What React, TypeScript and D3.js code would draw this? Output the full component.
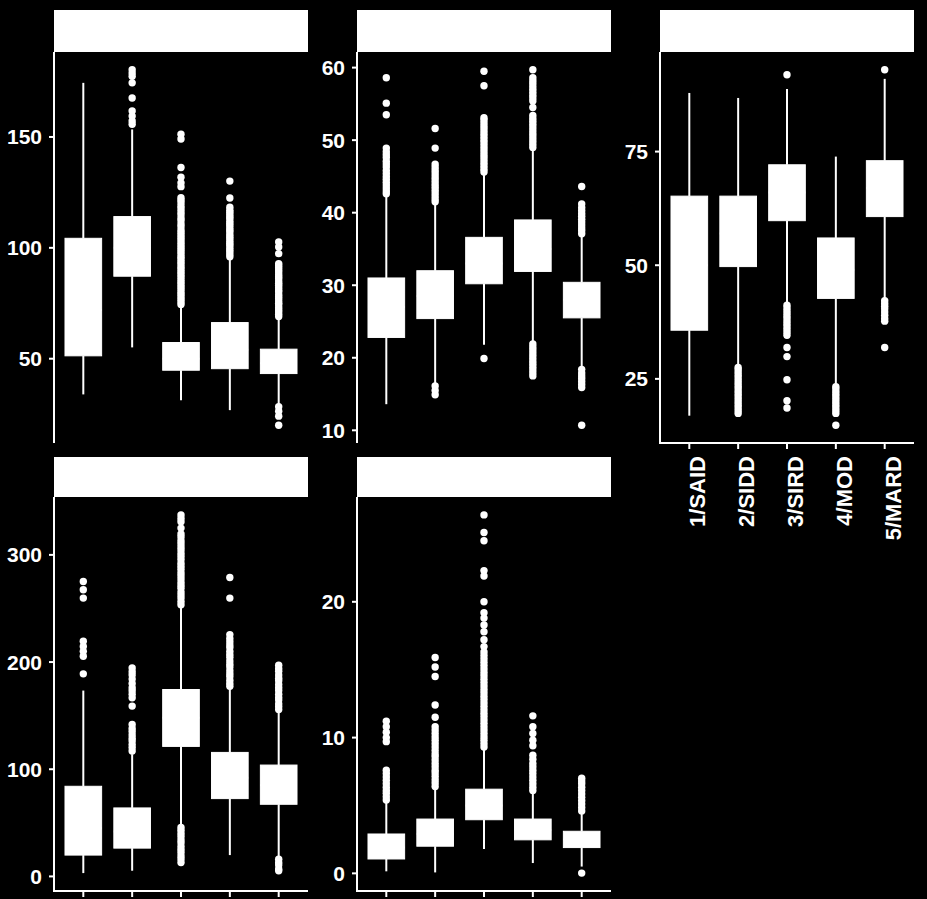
import * as React from 'react';
import * as d3 from 'd3';

const categories = ['1/SAID', '2/SIDD', '3/SIRD', '4/MOD', '5/MARD'];

// [whisker low, q1, median, q3, whisker high] per cluster
const p1Stats = [
	[33.9, 51.3, 72, 104.3, 174.4],
	[55.1, 87.2, 100, 114.1, 153.4],
	[31.3, 44.8, 50, 57.3, 73.5],
	[26.8, 45.5, 54, 66.3, 95.1],
	[29.4, 43.3, 48, 54.3, 68.2],
];
const p1Out = [
	[],
	[155.7, 157.2, 159.4, 161.7, 167.6, 174.4, 177.4, 178.8, 180.3],
	[74.5, 75.6, 76.7, 77.8, 78.9, 80, 81.2, 82.3, 83.4, 84.5, 85.6, 86.8, 87.9, 89, 90.1, 91.2, 92.4, 93.5, 94.6, 95.7, 96.8, 98, 99.1, 100.2, 101.3, 102.4, 103.6, 104.7, 105.8, 106.9, 108, 109.5, 110.8, 112.3, 113.4, 114.9, 116.2, 117.5, 118.8, 120.2, 121.5, 122.6, 127.6, 129.3, 131.8, 136.2, 149.1, 151.2],
	[96, 97, 98.1, 99, 100, 101.2, 102, 103, 104.1, 105, 106, 107.2, 108, 109, 110.1, 111, 112, 113.2, 114, 115, 116.1, 117, 118.3, 122.5, 130.1],
	[20, 24.1, 26.3, 28.3, 69, 70, 71.1, 72, 73, 74.2, 75, 76, 77.1, 78, 79, 80.2, 81, 82, 83.1, 84, 85, 86.2, 87, 88, 89.1, 90, 91, 92, 92.9, 97.4, 100.4, 102.6],
];
const p1Ticks = [50, 100, 150];

const p2Stats = [
	[13.6, 22.8, 27, 31.0, 42.2],
	[16.5, 25.4, 28.5, 32.0, 41.2],
	[21.8, 30.2, 33, 36.6, 45.4],
	[22.3, 31.9, 35, 39.0, 48.8],
	[18.6, 25.5, 28, 30.4, 36.9],
];
const p2Out = [
	[42.6, 43.0, 43.4, 43.8, 44.2, 44.6, 45.0, 45.4, 45.8, 46.3, 46.7, 47.1, 47.6, 48.0, 48.4, 48.9, 53.5, 55.1, 58.6],
	[14.9, 15.5, 16.1, 41.5, 41.9, 42.3, 42.7, 43.1, 43.5, 43.9, 44.3, 44.7, 45.1, 45.5, 45.9, 46.3, 46.7, 48.9, 51.6],
	[19.9, 45.6, 46.0, 46.4, 46.8, 47.2, 47.6, 48.0, 48.4, 48.8, 49.2, 49.6, 50.0, 50.4, 50.8, 51.2, 51.6, 52.0, 52.4, 52.8, 53.1, 57.5, 59.5],
	[17.5, 17.9, 18.3, 18.7, 19.1, 19.5, 19.9, 20.3, 20.7, 21.1, 21.5, 21.9, 49.0, 49.4, 49.8, 50.2, 50.6, 51.0, 51.4, 51.8, 52.2, 52.6, 53.0, 53.4, 54.5, 55.4, 55.8, 56.2, 56.6, 57.0, 57.4, 57.8, 58.2, 58.6, 59.7],
	[10.7, 15.9, 16.3, 16.7, 17.1, 17.5, 17.9, 18.4, 37.1, 37.5, 37.9, 38.3, 38.7, 39.1, 39.5, 39.9, 40.3, 40.7, 41.2, 43.6],
];
const p2Ticks = [10, 20, 30, 40, 50, 60];

const p3Stats = [
	[16.9, 35.7, 50, 65.2, 87.9],
	[27.9, 49.7, 57, 65.2, 86.8],
	[41.8, 59.8, 66, 72.1, 88.75],
	[23.7, 42.7, 49, 56.0, 73.9],
	[42.6, 60.7, 67, 73.0, 91.0],
];
const p3Out = [
	[],
	[17.4, 18.0, 18.6, 19.2, 19.8, 20.4, 21.0, 21.6, 22.2, 22.8, 23.4, 24.0, 24.6, 25.2, 25.8, 26.4, 27.0, 27.5],
	[18.6, 20.2, 24.8, 29.9, 31.9, 34.6, 35.2, 35.8, 36.4, 37.0, 37.6, 38.2, 38.8, 39.4, 40.0, 40.6, 41.2, 91.9],
	[14.8, 17.4, 18.0, 18.6, 19.2, 19.8, 20.4, 21.0, 21.6, 22.2, 22.8, 23.3],
	[31.9, 37.7, 38.3, 39.0, 39.7, 40.4, 41.0, 41.6, 42.2, 93.0],
];
const p3Ticks = [25, 50, 75];

const p4Stats = [
	[3.1, 19.9, 45, 84.1, 173.4],
	[5.3, 26.4, 42, 63.9, 114],
	[47.5, 121.3, 148, 174.4, 251],
	[19.9, 72.6, 92, 115.7, 175],
	[17.7, 67.3, 85, 103.9, 153],
];
const p4Out = [
	[189, 205.4, 210, 214.5, 219.4, 259.7, 267.5, 275.2],
	[117, 120.2, 123, 126.4, 129, 132, 135.3, 138, 141.8, 158.9, 166.6, 170, 173.2, 176, 180, 184.1, 188, 191, 194.5],
	[13, 16.2, 19, 22.4, 25, 28, 31.3, 34, 37.2, 40, 43, 45.6, 253.5, 256.4, 259.7, 262.5, 265.3, 268.8, 271.5, 274.2, 277.6, 280.5, 283.3, 286.7, 289.5, 292.2, 295.6, 298.5, 301.4, 304.6, 307.3, 310.5, 313.2, 316.8, 319.5, 325, 331, 334, 337.3],
	[177.5, 180, 183, 186.5, 189, 192, 195.5, 198, 201, 204.5, 207, 210, 213.5, 216, 219, 222, 225.6, 259.7, 278.9],
	[5.3, 7, 10.7, 13, 16.1, 155.8, 158.5, 161, 164.5, 167, 170, 173.5, 176, 179, 182.5, 185, 188, 191.5, 194, 197],
];
const p4Ticks = [0, 100, 200, 300];

const p5Stats = [
	[0.15, 1.06, 1.9, 2.9, 5.3],
	[0.07, 2.0, 2.9, 4.0, 6.3],
	[1.8, 3.95, 5, 6.2, 9.2],
	[0.76, 2.47, 3.2, 4.0, 6.0],
	[0.5, 1.9, 2.5, 3.1, 4.5],
];
const p5Out = [
	[5.4, 5.65, 5.9, 6.1, 6.35, 6.6, 6.85, 7.1, 7.35, 7.6, 9.7, 10.0, 10.4, 10.8, 11.2],
	[6.4, 6.65, 6.9, 7.15, 7.4, 7.6, 7.85, 8.1, 8.35, 8.6, 8.8, 9.05, 9.3, 9.55, 9.8, 10.05, 10.3, 10.55, 10.8, 11.5, 12.4, 14.5, 15.2, 15.9],
	[9.3, 9.55, 9.8, 10.05, 10.3, 10.55, 10.8, 11.05, 11.3, 11.55, 11.8, 12.05, 12.3, 12.55, 12.8, 13.05, 13.3, 13.55, 13.8, 14.05, 14.3, 14.55, 14.8, 15.05, 15.3, 15.55, 15.8, 16.05, 16.3, 16.7, 17.2, 17.8, 18.3, 18.8, 19.2, 20.0, 21.9, 22.3, 24.5, 25.1, 26.4],
	[6.1, 6.35, 6.6, 6.85, 7.1, 7.35, 7.6, 7.85, 8.1, 8.4, 8.7, 9.4, 9.8, 10.3, 10.8, 11.6],
	[0.02, 4.6, 4.85, 5.1, 5.35, 5.6, 5.85, 6.1, 6.35, 6.6, 6.8, 7.0],
];
const p5Ticks = [0, 10, 20];

const W = 927;
const H = 899;
const panelW = 254;
const colLeft = [54, 357, 660];
const rows = [
	{ stripTop: 10, plotTop: 52, plotBottom: 443 },
	{ stripTop: 457, plotTop: 497, plotBottom: 891 },
];
const font = '"Liberation Sans", Arial, sans-serif';

const Panel = ({ x0, row, stats, outliers, ticks, xAxis, xLabels }) => {
	const all = stats.flat().concat(outliers.flat());
	const [mn, mx] = d3.extent(all);
	const pad = (mx - mn) * 0.05;
	const y = d3.scaleLinear().domain([mn - pad, mx + pad]).range([row.plotBottom, row.plotTop]);
	const x = d3.scalePoint().domain(categories).range([x0, x0 + panelW]).padding(0.6);
	const bw = x.step() * 0.75;

	return (
		<g>
			<rect x={x0} y={row.stripTop} width={panelW} height={row.plotTop - row.stripTop} fill='#fff' />
			{stats.map((s, i) => {
				const cx = x(categories[i]);
				const [lo, q1, med, q3, hi] = s;
				return (
					<g key={i}>
						<line x1={cx} x2={cx} y1={y(hi)} y2={y(q3)} stroke='#fff' strokeWidth={2} />
						<line x1={cx} x2={cx} y1={y(q1)} y2={y(lo)} stroke='#fff' strokeWidth={2} />
						<rect x={cx - bw / 2} y={y(q3)} width={bw} height={y(q1) - y(q3)} fill='#fff' stroke='#fff' strokeWidth={1} />
						<line x1={cx - bw / 2} x2={cx + bw / 2} y1={y(med)} y2={y(med)} stroke='#fff' strokeWidth={2} />
						{outliers[i].map((v, j) => (
							<circle key={j} cx={cx} cy={y(v)} r={3.7} fill='#fff' />
						))}
					</g>
				);
			})}
			<line x1={x0} x2={x0} y1={row.plotTop} y2={row.plotBottom} stroke='#fff' strokeWidth={2} />
			{ticks.map(t => (
				<g key={t}>
					<line x1={x0 - 5} x2={x0} y1={y(t)} y2={y(t)} stroke='#fff' strokeWidth={2} />
					<text x={x0 - 12} y={y(t) + 7.5} textAnchor='end' fill='#fff' fontSize={21} fontWeight='bold' fontFamily={font}>
						{t}
					</text>
				</g>
			))}
			{xAxis ? (
				<g>
					<line x1={x0 - 1} x2={x0 + panelW} y1={row.plotBottom} y2={row.plotBottom} stroke='#fff' strokeWidth={2} />
					{categories.map(c => (
						<g key={c}>
							<line x1={x(c)} x2={x(c)} y1={row.plotBottom} y2={row.plotBottom + 6} stroke='#fff' strokeWidth={2} />
							{xLabels ? (
								<text
									transform={`translate(${x(c) + 16} ${row.plotBottom + 13}) rotate(-90)`}
									textAnchor='end'
									fill='#fff'
									fontSize={22}
									fontWeight='bold'
									fontFamily={font}
								>
									{c}
								</text>
							) : null}
						</g>
					))}
				</g>
			) : null}
		</g>
	);
};

export default function App() {
	// bottom-row labels fall below the picture's edge in the original, so only panel 3 shows them
	const panels = [
		{ col: 0, row: 0, stats: p1Stats, outliers: p1Out, ticks: p1Ticks, xAxis: false, xLabels: false },
		{ col: 1, row: 0, stats: p2Stats, outliers: p2Out, ticks: p2Ticks, xAxis: false, xLabels: false },
		{ col: 2, row: 0, stats: p3Stats, outliers: p3Out, ticks: p3Ticks, xAxis: true, xLabels: true },
		{ col: 0, row: 1, stats: p4Stats, outliers: p4Out, ticks: p4Ticks, xAxis: true, xLabels: false },
		{ col: 1, row: 1, stats: p5Stats, outliers: p5Out, ticks: p5Ticks, xAxis: true, xLabels: false },
	];

	return (
		<svg width={W} height={H} style={{ position: 'absolute', left: 0, top: 0, display: 'block' }}>
			<rect width={W} height={H} fill='#000' />
			{panels.map((p, i) => (
				<Panel
					key={i}
					x0={colLeft[p.col]}
					row={rows[p.row]}
					stats={p.stats}
					outliers={p.outliers}
					ticks={p.ticks}
					xAxis={p.xAxis}
					xLabels={p.xLabels}
				/>
			))}
		</svg>
	);
}
